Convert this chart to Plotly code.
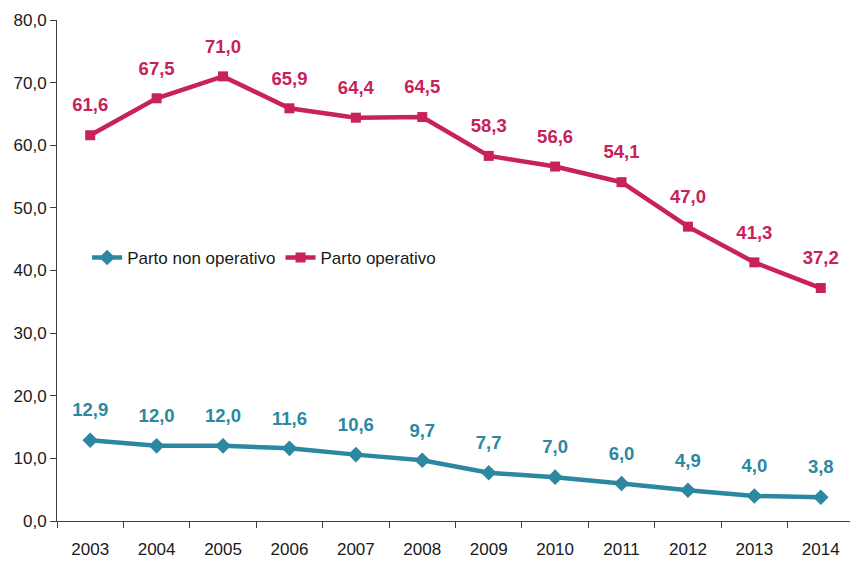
import plotly.graph_objects as go

years = ["2003", "2004", "2005", "2006", "2007", "2008", "2009", "2010", "2011", "2012", "2013", "2014"]
non_operativo = [12.9, 12.0, 12.0, 11.6, 10.6, 9.7, 7.7, 7.0, 6.0, 4.9, 4.0, 3.8]
operativo = [61.6, 67.5, 71.0, 65.9, 64.4, 64.5, 58.3, 56.6, 54.1, 47.0, 41.3, 37.2]
y_ticks = [0, 10, 20, 30, 40, 50, 60, 70, 80]

teal = "#2C87A1"
pink = "#C8215B"
FONT = "Liberation Sans, Arial, sans-serif"


def fmt(v):
    return f"{v:.1f}".replace(".", ",")


fig = go.Figure()
for series, color, name, symbol, msize in (
    (non_operativo, teal, "Parto non operativo", "diamond", 12),
    (operativo, pink, "Parto operativo", "square", 10),
):
    fig.add_trace(go.Scatter(
        x=years, y=series, mode="lines+markers", name=name,
        line=dict(color=color, width=4.5),
        marker=dict(symbol=symbol, size=msize, color=color),
    ))
    fig.add_trace(go.Scatter(
        x=years, y=series, mode="markers+text", showlegend=False, hoverinfo="skip",
        text=["<b>" + fmt(v) + "</b>" for v in series], textposition="top center",
        textfont=dict(family=FONT, size=18.5, color=color),
        marker=dict(size=29, opacity=0, color=color),
    ))

fig.update_layout(
    width=850, height=562,
    margin=dict(l=57, r=0, t=20, b=41),
    paper_bgcolor="white", plot_bgcolor="white",
    font=dict(family=FONT, size=17, color="#1a1a1a"),
    separators=",.",
    legend=dict(
        orientation="h", x=0.038, y=0.525, xanchor="left", yanchor="middle",
        font=dict(size=17), bgcolor="rgba(0,0,0,0)",
    ),
    xaxis=dict(
        type="category", tickson="boundaries", ticks="outside", ticklen=6,
        tickcolor="#404040", showline=True, linecolor="#404040", linewidth=1,
        showgrid=False, zeroline=False, range=[-0.5, 11.44],
        automargin=False, ticklabelstandoff=13,
    ),
    yaxis=dict(
        range=[0, 80], tickvals=y_ticks, tickformat=".1f", ticks="outside", ticklen=6,
        tickcolor="#404040", showline=True, linecolor="#404040", linewidth=1,
        showgrid=False, zeroline=False, automargin=False,
    ),
)

fig.write_html("out.html", config={"displayModeBar": False},
               post_script="document.body.style.margin='0';")
